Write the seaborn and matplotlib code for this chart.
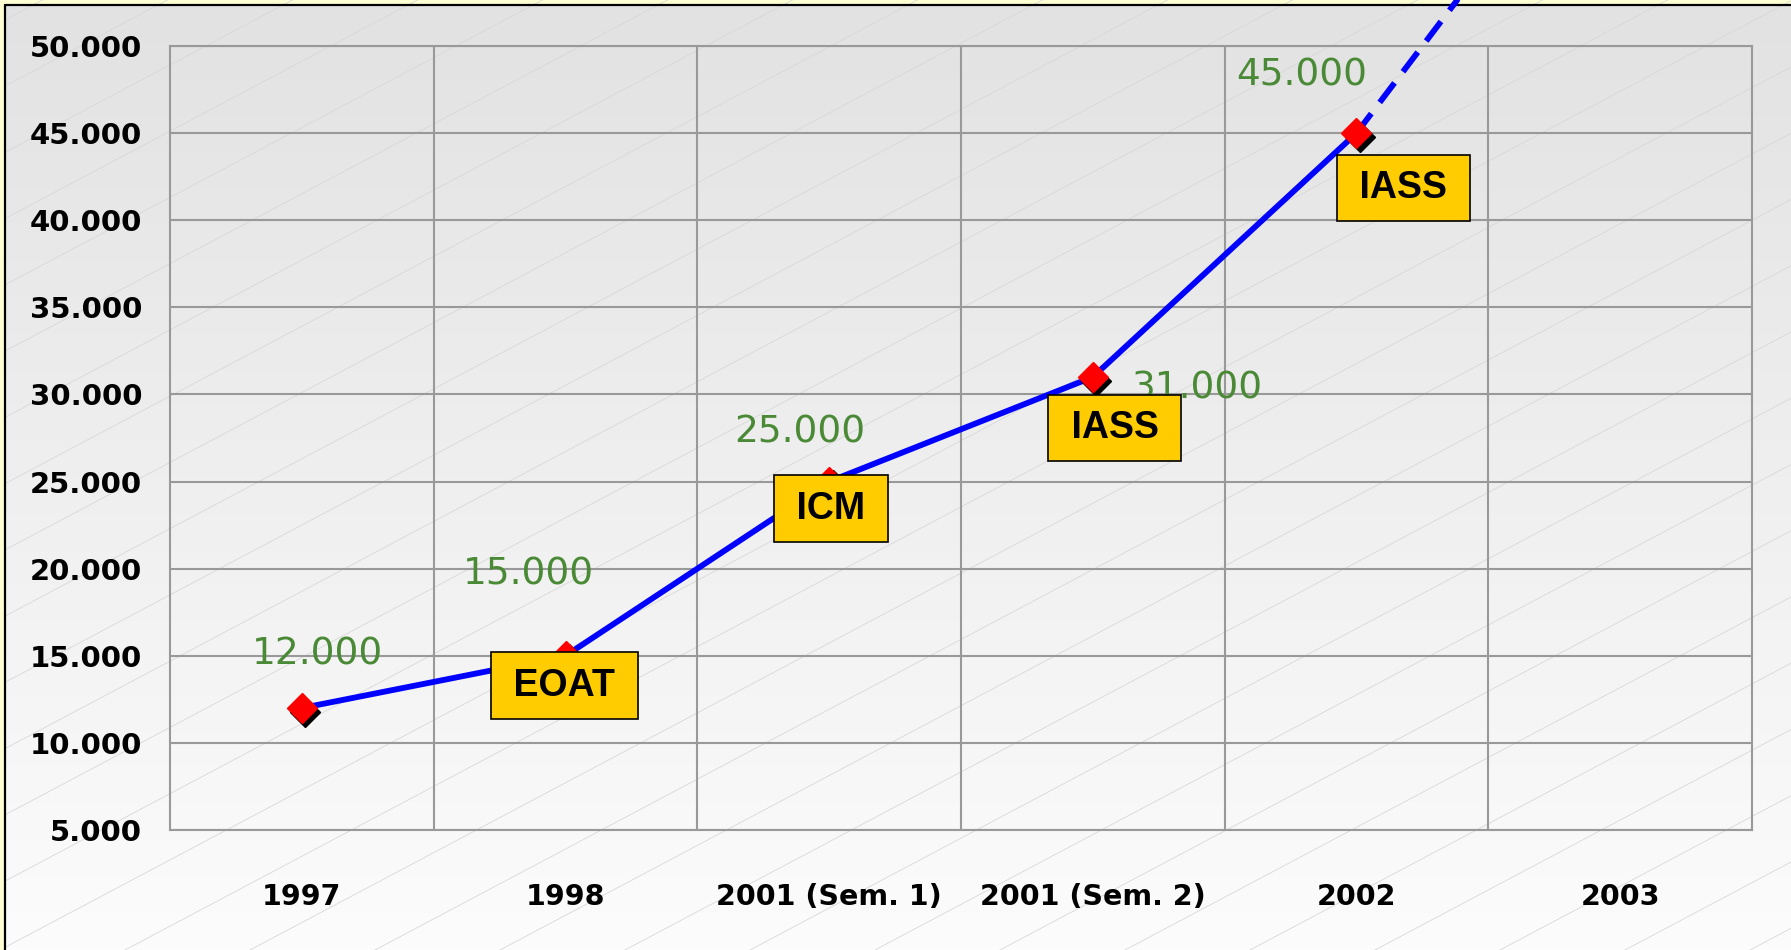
import numpy as np
import pandas as pd
import matplotlib
matplotlib.use("Agg")
import matplotlib.pyplot as plt
import matplotlib.transforms as mtransforms
from matplotlib.colors import LinearSegmentedColormap
from matplotlib.ticker import FuncFormatter, FixedLocator
import seaborn as sns

# ---------------- data ----------------
categories = ["1997", "1998", "2001 (Sem. 1)", "2001 (Sem. 2)", "2002", "2003"]
users = [12000, 15000, 25000, 31000, 45000]
value_labels = ["12.000", "15.000", "25.000", "31.000", "45.000"]
box_labels = [None, "EOAT", "ICM", "IASS", "IASS"]
projection_cats = ["2002", "2003"]
projection_vals = [45000, 65000]
y_ticks = [5000, 10000, 15000, 20000, 25000, 30000, 35000, 40000, 45000, 50000]

# ---------------- style ----------------
sns.set_theme(style="white")
plt.rcParams['font.family'] = ['DejaVu Sans']

W, H = 1791, 950
fig = plt.figure(figsize=(W / 100, H / 100), dpi=100)

# background: light yellow outside, gradient panel with faint diagonal lines
bg = fig.add_axes([0, 0, 1, 1], zorder=-10)
bg.set_xlim(0, W)
bg.set_ylim(0, H)
bg.axis("off")
bg.add_patch(plt.Rectangle((0, 0), W, H, color="#FFFFD4", zorder=0))
cmap = LinearSegmentedColormap.from_list("g", ["#e2e2e2", "#fcfcfc"])
grad = np.linspace(0, 1, 256).reshape(-1, 1)
bg.imshow(grad, aspect="auto", cmap=cmap, extent=[5, W, 0, 945], origin="upper", zorder=1)
slope = 0.53
for x0 in np.arange(-2000, W + 200, 125):
    xs = np.array([5, W])
    ys = slope * (xs - x0)
    bg.plot(xs, ys, color="#d8d8d8", lw=0.6, zorder=2, clip_on=True)
bg.set_xlim(0, W)
bg.set_ylim(0, H)
bg.plot([5, 5], [0, 945], color="black", lw=1.6, zorder=3)
bg.plot([5, W], [945, 945], color="black", lw=1.6, zorder=3)

# main axes
left, right, top, bottom = 170, 1752, 46, 830
ax = fig.add_axes([left / W, 1 - bottom / H, (right - left) / W, (bottom - top) / H])
ax.set_facecolor("none")

x_idx = list(range(len(users)))
df = pd.DataFrame({"x": x_idx, "y": users})
sns.lineplot(data=df, x="x", y="y", ax=ax, color="#0000FF", lw=4.2, zorder=3)

proj_x = [categories.index(c) for c in projection_cats]
ax.plot(proj_x, projection_vals, color="#0000FF", lw=4.2, dashes=(4.2, 2.4),
        clip_on=False, zorder=3)

# markers with black shadow
shadow = ax.transData + mtransforms.ScaledTranslation(3.5 / 100, -3.5 / 100, fig.dpi_scale_trans)
ax.plot(x_idx, users, "D", color="black", ms=15, transform=shadow, zorder=4, clip_on=False)
ax.plot(x_idx, users, "D", color="#FF0000", ms=15, mec="#FF0000", zorder=4.2, clip_on=False)

# value labels (green)
label_offsets = [(16, 54), (-37, 81), (-29, 49), (104, -11), (-55, 58)]
for i, (v, lab) in enumerate(zip(users, value_labels)):
    dx, dy = label_offsets[i]
    ax.annotate(lab, (i, v), xytext=(dx, dy), textcoords="offset pixels",
                ha="center", va="center", color="#4A8A36", fontsize=27, zorder=4.5)

# yellow boxes
box_offsets = [None, (-1, -30), (2, -27), (22, -51), (47, -55)]
for i, (v, lab) in enumerate(zip(users, box_labels)):
    if lab is None:
        continue
    dx, dy = box_offsets[i]
    ax.annotate("\u2009" + lab + "\u2009", (i, v), xytext=(dx, dy), textcoords="offset pixels",
                ha="center", va="center", color="black", fontsize=27, fontweight="bold",
                family=["Liberation Sans", "DejaVu Sans"], zorder=6,
                bbox=dict(boxstyle="square,pad=0.41", fc="#FFCC00", ec="black", lw=1.2))

# axes setup
ax.set_xlim(-0.5, len(categories) - 0.5)
ax.set_ylim(y_ticks[0], y_ticks[-1])
ax.set_xticks(range(len(categories)))
ax.set_xticklabels(categories)
ax.xaxis.set_minor_locator(FixedLocator(np.arange(0.5, len(categories) - 0.5, 1)))
ax.set_yticks(y_ticks)
ax.yaxis.set_major_formatter(FuncFormatter(lambda v, p: f"{int(v):,}".replace(",", ".")))
ax.grid(False)
ax.grid(axis="x", which="minor", color="#999999", lw=1.5)
ax.grid(axis="y", which="major", color="#999999", lw=1.5)
ax.set_axisbelow(True)
for s in ax.spines.values():
    s.set_visible(True)
    s.set_color("#999999")
    s.set_linewidth(1.5)
ax.tick_params(axis="both", which="both", length=0)
ax.tick_params(axis="y", pad=20, labelsize=21)
ax.tick_params(axis="x", pad=38, labelsize=20.5)
for t in ax.get_yticklabels() + ax.get_xticklabels():
    t.set_fontweight("bold")
    t.set_color("black")
ax.set_xlabel("")
ax.set_ylabel("")

fig.savefig("out.png", dpi=100)
